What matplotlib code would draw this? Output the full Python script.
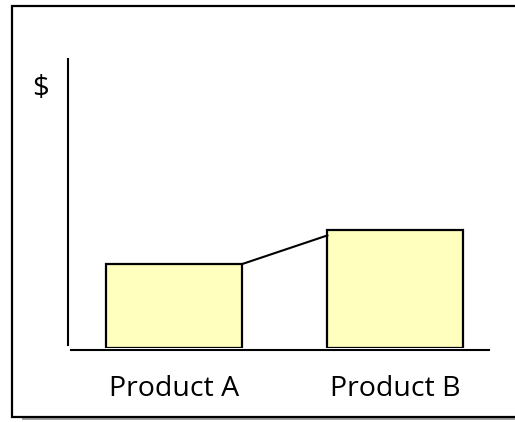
import matplotlib
matplotlib.use("Agg")
import matplotlib.pyplot as plt
from matplotlib.patches import Rectangle
from matplotlib.lines import Line2D

categories = ["Product A", "Product B"]
values = [5.0, 7.0]
axis_label = "$"

W, H = 515, 422
fig = plt.figure(figsize=(W / 100, H / 100), dpi=100)
fig.patch.set_facecolor("white")

def px(x0, y0, x1, y1):
    # convert pixel box (top-left origin) to figure fraction rect
    return [x0 / W, 1 - y1 / H, (x1 - x0) / W, (y1 - y0) / H]

# outer frame with shadow
fig.add_artist(Rectangle((22 / W, 1 - 420 / H), (W + 10) / W, 413 / H,
                         transform=fig.transFigure, facecolor="#a0a0a0",
                         edgecolor="none", zorder=0))
fig.add_artist(Rectangle((12 / W, 1 - 417 / H), (W + 10) / W, 411 / H,
                         transform=fig.transFigure, facecolor="white",
                         edgecolor="black", linewidth=1.6, zorder=1))

ax = fig.add_axes(px(67, 59, 489, 348))
ax.set_zorder(2)
ax.patch.set_visible(False)
for s in ax.spines.values():
    s.set_visible(False)
ax.set_xticks([])
ax.set_yticks([])

x = list(range(len(categories)))
width = 0.615
ax.bar(x, values, width=width, color="#FFFFBE", edgecolor="black",
       linewidth=1.6, zorder=3)
ax.set_xlim(-0.486, 1.424)
ax.set_ylim(0, 17.2)

# connector line between bars
ax.plot([x[0] + width / 2, x[1] - width / 2], [values[0], values[1] - 0.3],
        color="black", linewidth=1.5, zorder=3)

# axes lines
fig.add_artist(Line2D([67.5 / W, 67.5 / W], [1 - 59 / H, 1 - 345 / H],
                      color="black", linewidth=1.5, zorder=3))
fig.add_artist(Line2D([71 / W, 489 / W], [1 - 350 / H, 1 - 350 / H],
                      color="black", linewidth=1.5, zorder=3))

font = ["Open Sans", "DejaVu Sans"]
fig.text(40 / W, 1 - 89 / H, axis_label, ha="center", va="center",
         fontsize=21, family=font, zorder=4)
for xi, lab in zip(x, categories):
    ax.text(xi, -2.45, lab, ha="center", va="center", fontsize=20.5,
            family=font, clip_on=False)

fig.savefig("out.png", dpi=100)
